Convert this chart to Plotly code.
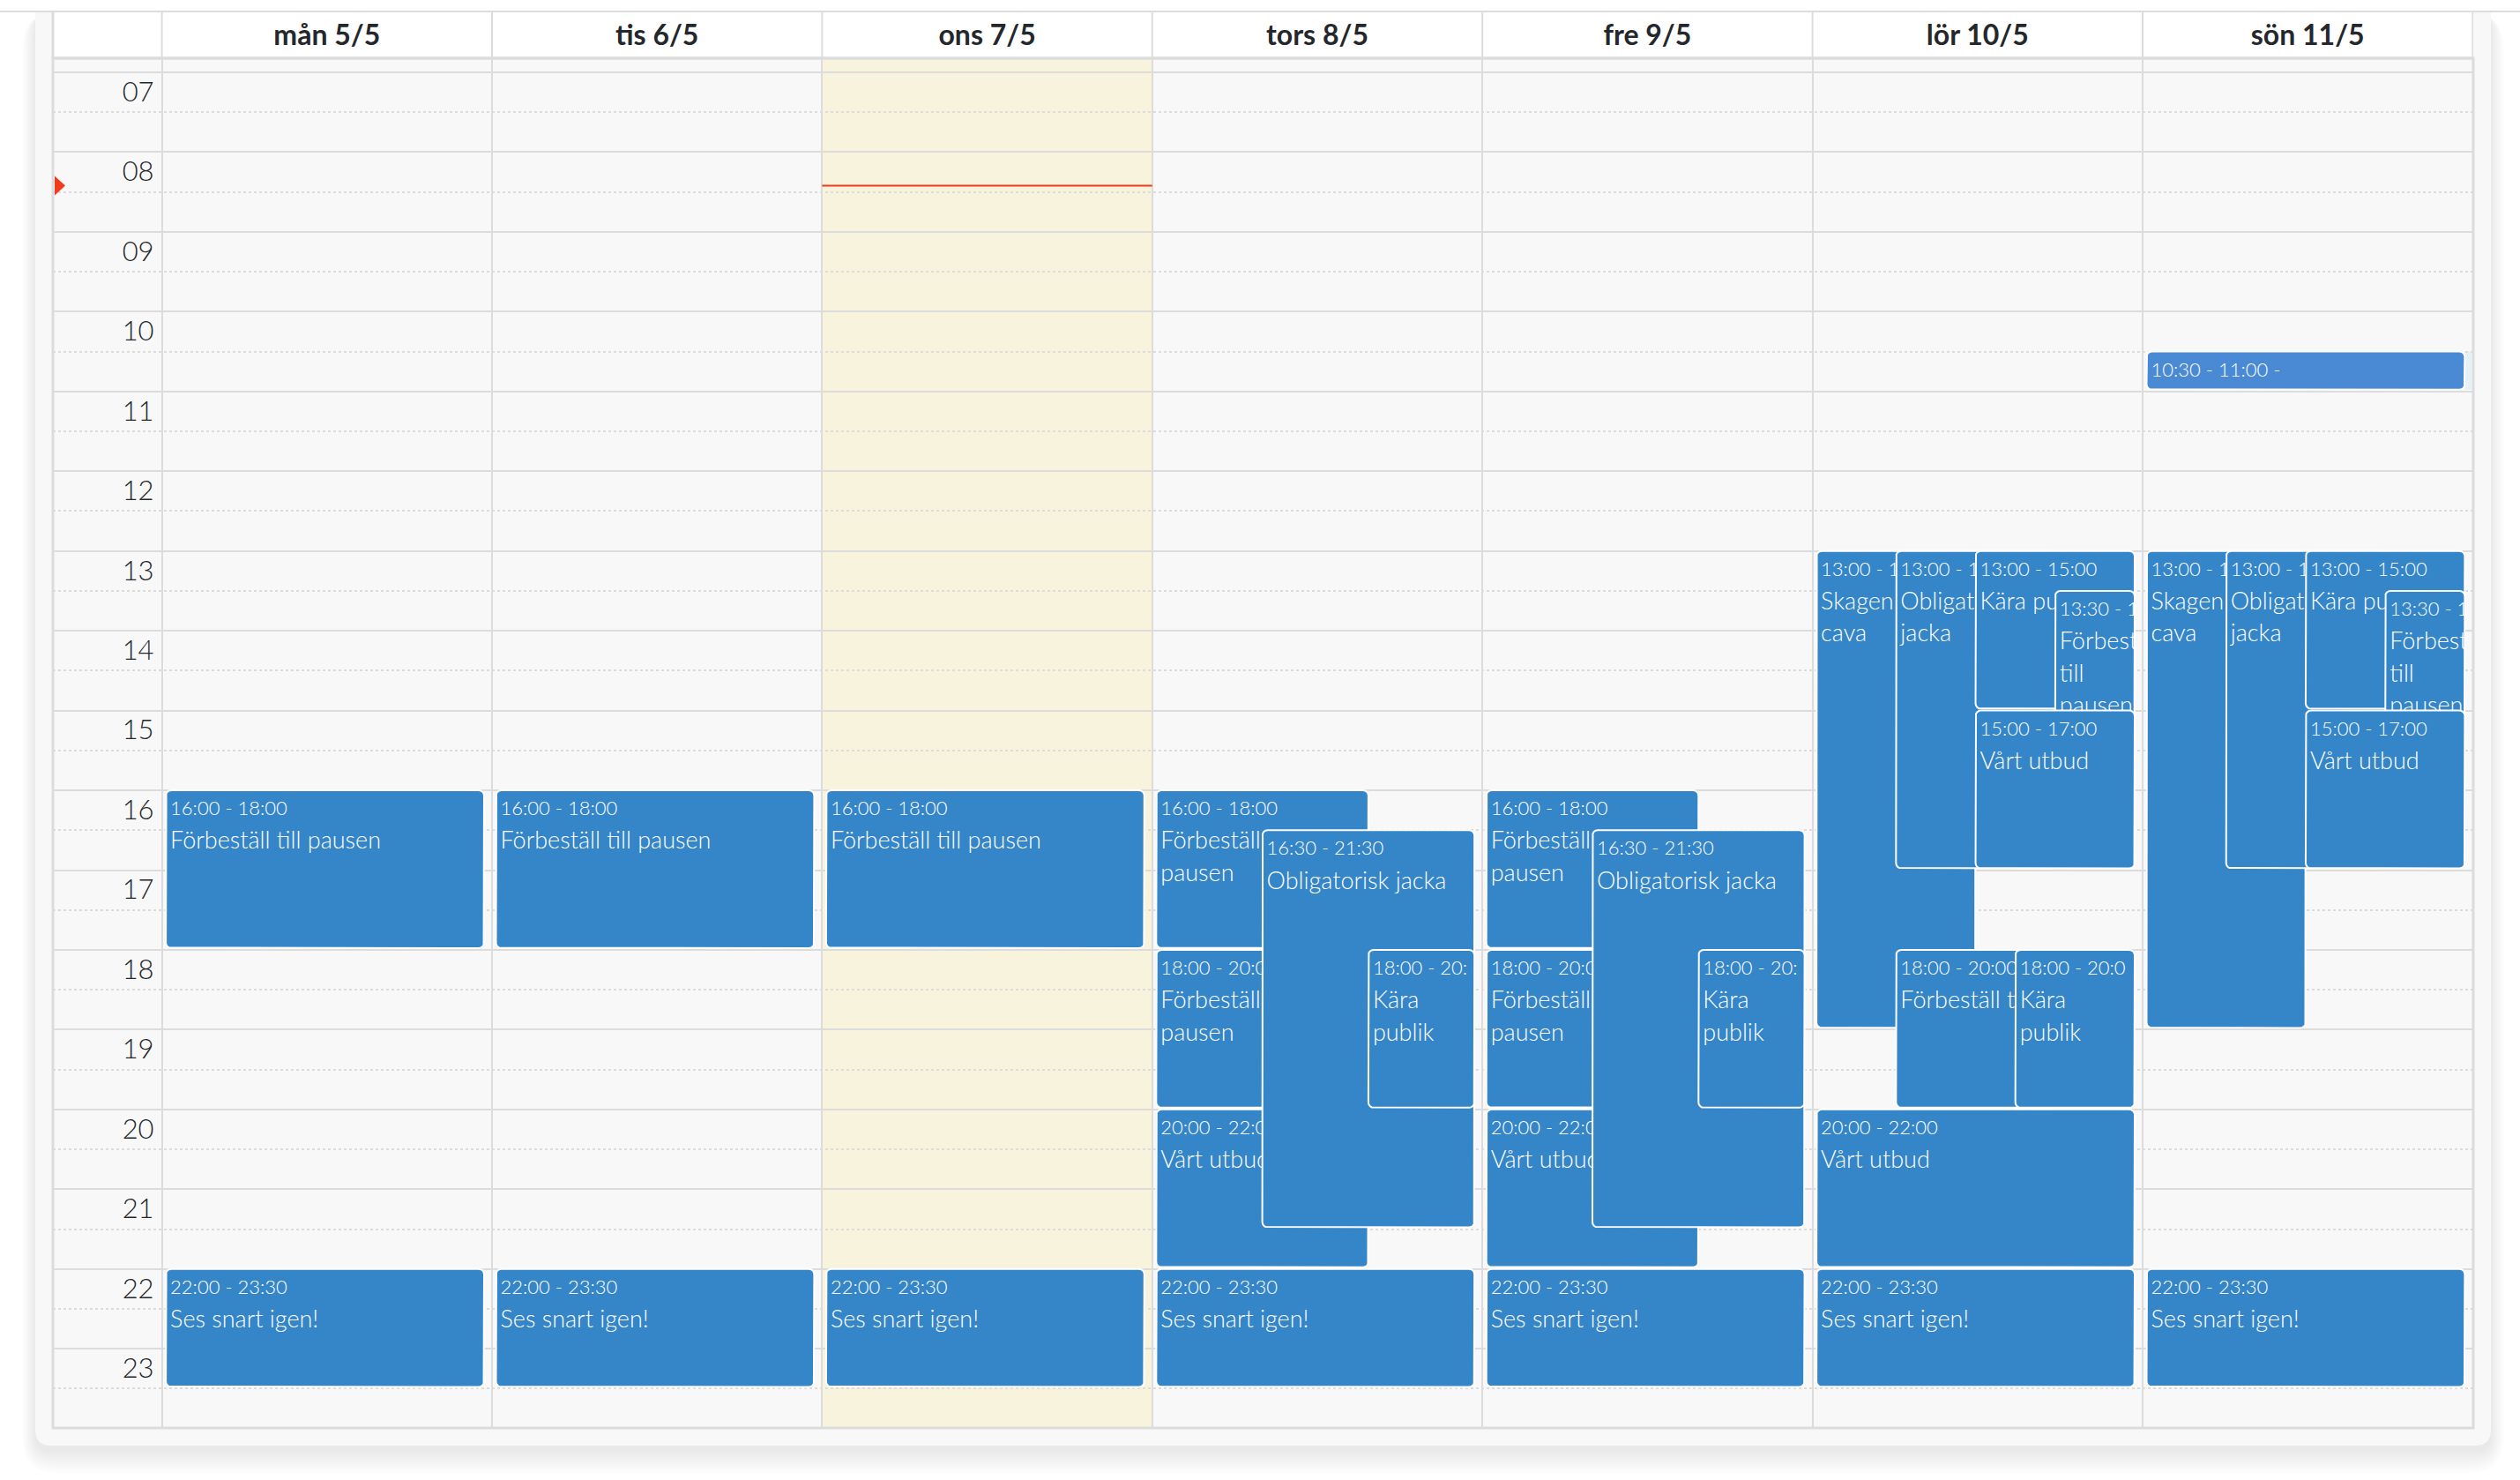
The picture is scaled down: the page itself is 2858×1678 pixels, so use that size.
import numpy as np
import plotly.graph_objects as go

# ---------- data ----------
day_labels = ["mån 5/5", "tis 6/5", "ons 7/5", "tors 8/5", "fre 9/5", "lör 10/5", "sön 11/5"]
hour_ticks = list(range(7, 24))
hour_labels = ["%02d" % h for h in hour_ticks]
today_index = 2
now_hour = 8.42

event_day = [0, 0, 1, 1, 2, 2,
             3, 3, 3, 3, 3, 3,
             4, 4, 4, 4, 4, 4,
             5, 5, 5, 5, 5, 5, 5, 5, 5,
             6, 6, 6, 6, 6, 6, 6]
event_start = [16, 22, 16, 22, 16, 22,
               16, 18, 20, 16.5, 18, 22,
               16, 18, 20, 16.5, 18, 22,
               13, 13, 13, 13.5, 15, 18, 18, 20, 22,
               10.5, 13, 13, 13, 13.5, 15, 22]
event_end = [18, 23.5, 18, 23.5, 18, 23.5,
             18, 20, 22, 21.5, 20, 23.5,
             18, 20, 22, 21.5, 20, 23.5,
             19, 17, 15, 15.5, 17, 20, 20, 22, 23.5,
             11, 19, 17, 15, 15.5, 17, 23.5]
lane_from = [0, 0, 0, 0, 0, 0,
             0, 0, 0, 1/3, 2/3, 0,
             0, 0, 0, 1/3, 2/3, 0,
             0, 1/4, 1/2, 3/4, 1/2, 1/4, 5/8, 0, 0,
             0, 0, 1/4, 1/2, 3/4, 1/2, 0]
lane_to = [1, 1, 1, 1, 1, 1,
           2/3, 2/3, 2/3, 1, 1, 1,
           2/3, 2/3, 2/3, 1, 1, 1,
           1/2, 3/4, 1, 1, 1, 3/4, 1, 1, 1,
           1, 1/2, 3/4, 1, 1, 1, 1]
FORB = "Förbeställ till pausen"
FORB2 = "Förbeställ till|pausen"
SES = "Ses snart igen!"
VART = "Vårt utbud"
OBL = "Obligatorisk jacka"
event_time = ["16:00 - 18:00", "22:00 - 23:30", "16:00 - 18:00", "22:00 - 23:30", "16:00 - 18:00", "22:00 - 23:30",
              "16:00 - 18:00", "18:00 - 20:00", "20:00 - 22:00", "16:30 - 21:30", "18:00 - 20:", "22:00 - 23:30",
              "16:00 - 18:00", "18:00 - 20:00", "20:00 - 22:00", "16:30 - 21:30", "18:00 - 20:", "22:00 - 23:30",
              "13:00 - 19:00", "13:00 - 17:00", "13:00 - 15:00", "13:30 - 1", "15:00 - 17:00", "18:00 - 20:00", "18:00 - 20:0", "20:00 - 22:00", "22:00 - 23:30",
              "10:30 - 11:00 -", "13:00 - 19:00", "13:00 - 17:00", "13:00 - 15:00", "13:30 - 1", "15:00 - 17:00", "22:00 - 23:30"]
event_title = [FORB, SES, FORB, SES, FORB, SES,
               FORB2, FORB2, VART, OBL, "Kära|publik", SES,
               FORB2, FORB2, VART, OBL, "Kära|publik", SES,
               "Skagen|cava", "Obligatorisk|jacka", "Kära publik", "Förbest|till|pausen", VART, FORB, "Kära|publik", VART, SES,
               "", "Skagen|cava", "Obligatorisk|jacka", "Kära publik", "Förbest|till|pausen", VART, SES]

# ---------- style ----------
W, H = 2858, 1678
L, R, T, B = 60, 2805, 66, 1619       # plot-area pixel box
COL0, COL_W = 183.6, 374.4
HOUR7, HOUR_H = 82.0, 90.45
LINE = "#dcdcdc"
PANEL = "#f8f8f8"
BLUE = "#3585c9"
BLUE_L = "#4a8ad4"
RED = "#f03c1c"
YELLOW = "#f8f3dd"
INK = "#24272b"
PAD_L, PAD_R = 4.5, 9.0
BOTTOM_GAP = 2.0
FONT = "Lato"

px = lambda v: (v - L) / (R - L)
py = lambda v: 1 - (v - T) / (B - T)
dx = lambda p: p / COL_W
dy = lambda p: p / HOUR_H


def round_path(x0, x1, y0, y1, r):
    """SVG path of a rounded rectangle, pixels -> paper."""
    return (f"M{px(x0+r)},{py(y0)} L{px(x1-r)},{py(y0)} Q{px(x1)},{py(y0)} {px(x1)},{py(y0+r)} "
            f"L{px(x1)},{py(y1-r)} Q{px(x1)},{py(y1)} {px(x1-r)},{py(y1)} "
            f"L{px(x0+r)},{py(y1)} Q{px(x0)},{py(y1)} {px(x0)},{py(y1-r)} "
            f"L{px(x0)},{py(y0+r)} Q{px(x0)},{py(y0)} {px(x0+r)},{py(y0)} Z")


def rounded_box(x0, x1, y0, y1, r=6.0):
    """Outline of an event in data units (day, hour)."""
    rx, ry = dx(r), dy(r)
    t = np.linspace(0, np.pi / 2, 5)
    xs, ys = [], []
    for cx, cy, a, sx, sy in [(x1 - rx, y0 + ry, 0, 1, -1), (x1 - rx, y1 - ry, 1, 1, 1),
                              (x0 + rx, y1 - ry, 2, -1, 1), (x0 + rx, y0 + ry, 3, -1, -1)]:
        tt = t if a % 2 else t[::-1]
        xs += list(cx + sx * rx * np.cos(tt))
        ys += list(cy + sy * ry * np.sin(tt))
    return xs + xs[:1], ys + ys[:1]


shapes = []
# soft shadow of the card
for i in range(22, 0, -1):
    shapes.append(dict(type="path", xref="paper", yref="paper", layer="below",
                       path=round_path(40 - i * 0.7, 2825 + i * 0.7, 14, 1639 + 6 + i * 1.2, 18 + i),
                       fillcolor="rgba(0,0,0,0.0048)", line_width=0))
# card
shapes.append(dict(type="path", xref="paper", yref="paper", layer="below",
                   path=round_path(40, 2825, -10, 1639, 18), fillcolor=PANEL, line_width=0))
# white strip + rule at the top of the page
shapes.append(dict(type="rect", xref="paper", yref="paper", layer="below", x0=px(0), x1=px(W), y0=py(0), y1=py(12),
                   fillcolor="white", line_width=0))
shapes.append(dict(type="rect", xref="paper", yref="paper", layer="below", x0=px(0), x1=px(W), y0=py(12), y1=py(14),
                   fillcolor=LINE, line_width=0))
# header band
shapes.append(dict(type="rect", xref="paper", yref="paper", layer="below", x0=px(L), x1=px(R), y0=py(14), y1=py(T),
                   fillcolor="white", line_width=0))
# today column
shapes.append(dict(type="rect", xref="x", yref="paper", layer="below", x0=today_index, x1=today_index + 1, y0=0, y1=1,
                   fillcolor=YELLOW, line_width=0))
# outer frame and header separators
shapes.append(dict(type="rect", xref="paper", yref="paper", layer="below", x0=0, x1=1, y0=0, y1=1,
                   line=dict(color=LINE, width=3), fillcolor="rgba(0,0,0,0)"))
for c in range(0, 8):
    shapes.append(dict(type="line", xref="x", yref="paper", x0=c, x1=c, y0=py(14), y1=py(T), layer="below",
                       line=dict(color=LINE, width=2)))
shapes.append(dict(type="line", xref="paper", yref="paper", x0=0, x1=0, y0=py(14), y1=py(T), layer="below",
                   line=dict(color=LINE, width=3)))
shapes.append(dict(type="line", xref="paper", yref="paper", x0=0, x1=1, y0=py(T), y1=py(T), layer="below",
                   line=dict(color=LINE, width=3)))

fig = go.Figure()

for i in range(len(event_day)):
    x0 = event_day[i] + dx(PAD_L) + lane_from[i] * (1 - dx(PAD_L + PAD_R))
    x1 = event_day[i] + dx(PAD_L) + lane_to[i] * (1 - dx(PAD_L + PAD_R))
    y0, y1 = event_start[i], event_end[i] - dy(BOTTOM_GAP)
    colour = BLUE_L if y1 - y0 < 1 else BLUE
    if y1 - y0 < 1:
        shapes.append(dict(type="rect", xref="x", yref="y", layer="below", x0=x1, x1=event_day[i] + 1 - dx(1),
                           y0=y0, y1=y1, fillcolor="#e6f0f5", line_width=0))
    xs, ys = rounded_box(x0, x1, y0, y1)
    fig.add_trace(go.Scatter(x=xs, y=ys, mode="lines", fill="toself", fillcolor=colour,
                             line=dict(color="white", width=2), hoverinfo="skip", showlegend=False))
    tx = x0 + dx(5)
    fig.add_trace(go.Scatter(x=[tx], y=[y0 + dy(22.5)], mode="text", text=[event_time[i]], textposition="middle right",
                             textfont=dict(family=FONT, size=22, color="white", weight=300),
                             hoverinfo="skip", showlegend=False))
    if event_title[i]:
        lines = event_title[i].split("|")
        fig.add_trace(go.Scatter(x=[tx] * len(lines), y=[y0 + dy(59.5 + 36.5 * k) for k in range(len(lines))],
                                 mode="text", text=lines, textposition="middle right",
                                 textfont=dict(family=FONT, size=27, color="white", weight=300),
                                 hoverinfo="skip", showlegend=False))

# "now" line in today's column and its marker at the left edge
fig.add_trace(go.Scatter(x=[today_index, today_index + 1], y=[now_hour, now_hour], mode="lines",
                         line=dict(color=RED, width=2), hoverinfo="skip", showlegend=False))
ax0 = -(COL0 - L) / COL_W
fig.add_trace(go.Scatter(x=[ax0 + dx(2), ax0 + dx(14), ax0 + dx(2), ax0 + dx(2)],
                         y=[now_hour - dy(11), now_hour, now_hour + dy(11), now_hour - dy(11)],
                         mode="lines", fill="toself", fillcolor=RED, line=dict(color=RED, width=0),
                         hoverinfo="skip", showlegend=False))

fig.update_layout(
    width=W, height=H, autosize=False,
    margin=dict(l=L, r=W - R, t=T, b=H - B, pad=0),
    paper_bgcolor="white", plot_bgcolor="rgba(0,0,0,0)",
    showlegend=False, shapes=shapes,
    xaxis=dict(range=[ax0, (R - COL0) / COL_W], side="top", tickmode="array",
               tickvals=[d + 0.5 for d in range(7)], ticktext=day_labels,
               tickfont=dict(family=FONT, size=32, color=INK, weight=700),
               ticks="", showgrid=False, zeroline=False, showline=False, ticklabelstandoff=8,
               minor=dict(tickmode="array", tickvals=list(range(0, 8)), showgrid=True,
                          gridcolor=LINE, gridwidth=2, ticks="")),
    yaxis=dict(range=[7 + (B - HOUR7) / HOUR_H, 7 - (HOUR7 - T) / HOUR_H], anchor="free",
               position=(COL0 - L) / (R - L),
               side="left", tickmode="array", tickvals=hour_ticks, ticktext=hour_labels,
               tickfont=dict(family=FONT, size=31, color=INK, weight=300),
               ticks="", showgrid=True, gridcolor=LINE, gridwidth=2, zeroline=False, showline=False,
               ticklabelstandoff=9, ticklabelshift=-22,
               minor=dict(tickmode="array", tickvals=[h + 0.5 for h in hour_ticks], showgrid=True,
                          gridcolor=LINE, gridwidth=2, griddash="dot", ticks="")),
)

fig.write_html("out.html", config={"displayModeBar": False}, post_script="document.body.style.margin='0';")
